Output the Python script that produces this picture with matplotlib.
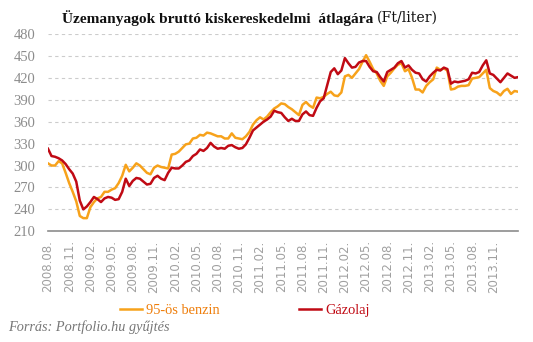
import numpy as np
from matplotlib import pyplot as plt

# semi-monthly readings, starting 2008.08
benzin = [303, 300, 300, 306, 303, 290, 276, 264, 251, 231, 228, 228,
          243, 250, 255, 257, 264, 264, 267, 269, 276, 286, 301, 292,
          297, 303, 300, 295, 290, 288, 297, 300, 298, 297, 296, 315,
          316, 319, 324, 329, 330, 337, 338, 342, 341, 345, 344, 342,
          340, 340, 337, 337, 344, 338, 337, 336, 340, 346, 356, 362,
          366, 363, 367, 373, 378, 381, 385, 384, 380, 377, 373, 369,
          383, 387, 382, 379, 393, 392, 394, 398, 401, 396, 395, 400,
          422, 424, 420, 426, 432, 442, 451, 442, 432, 426, 416, 409,
          422, 427, 433, 438, 440, 429, 432, 420, 404, 404, 400, 409,
          414, 418, 434, 431, 433, 430, 404, 405, 408, 409, 409, 410,
          419, 420, 421, 426, 431, 406, 402, 400, 396, 402, 405, 398,
          402, 401]
gazolaj = [323, 313, 312, 310, 307, 302, 295, 289, 278, 252, 240, 244,
           250, 257, 254, 250, 255, 257, 256, 253, 254, 264, 282, 272,
           279, 283, 282, 278, 274, 275, 283, 286, 282, 280, 290, 297,
           296, 296, 300, 305, 307, 313, 316, 322, 320, 324, 331, 326,
           323, 324, 323, 327, 328, 325, 323, 324, 329, 338, 348, 352,
           356, 360, 363, 367, 375, 373, 372, 366, 361, 364, 361, 361,
           370, 374, 369, 368, 379, 388, 392, 410, 428, 433, 425, 430,
           447, 440, 434, 435, 441, 443, 443, 435, 429, 428, 421, 415,
           428, 431, 434, 440, 443, 434, 437, 431, 427, 426, 418, 415,
           422, 427, 431, 430, 434, 432, 412, 415, 414, 415, 416, 418,
           427, 426, 428, 437, 444, 426, 424, 419, 414, 420, 426, 423,
           420, 421]
tick_labels = ["2008.08.", "2008.11.", "2009.02.", "2009.05.", "2009.08.", "2009.11.",
               "2010.02.", "2010.05.", "2010.08.", "2010.11.", "2011.02.", "2011.05.",
               "2011.08.", "2011.11.", "2012.02.", "2012.05.", "2012.08.", "2012.11.",
               "2013.02.", "2013.05.", "2013.08.", "2013.11."]
yticks = [210, 240, 270, 300, 330, 360, 390, 420, 450, 480]

orange = "#F7A21B"
red = "#C00A14"

months = np.arange(len(benzin)) * 0.5

fig = plt.figure(figsize=(5.33, 3.42), dpi=100)
ax = fig.add_axes([0.090, 0.3237, 0.882, 0.5769])

ax.plot(months, benzin, color=orange, lw=1.8, label="95-ös benzin")
ax.plot(months, gazolaj, color=red, lw=1.8, label="Gázolaj")

ax.set_xlim(0, months[-1])
ax.set_ylim(210, 480)
ax.set_yticks(yticks)
for v in yticks[1:]:
    ax.axhline(v, color="#cccccc", lw=0.8, dashes=(3, 3), zorder=0)
for s in ["top", "right", "left"]:
    ax.spines[s].set_visible(False)
ax.spines["bottom"].set_color("#8c8c8c")
ax.spines["bottom"].set_linewidth(1.2)

ax.set_xticks(np.arange(len(tick_labels)) * 3)
ax.set_xticklabels(tick_labels, rotation=90, fontsize=8.5, color="#a0a0a0",
                   family="DejaVu Sans")
ax.tick_params(axis="x", length=0, pad=6.5)
ax.tick_params(axis="y", length=0, pad=9, labelsize=10.5, labelcolor="#8c8c8c")
for lab in ax.get_yticklabels():
    lab.set_family("Liberation Serif")

leg = ax.legend(loc="center left", bbox_to_anchor=(0.225, 0.093),
                bbox_transform=fig.transFigure, ncol=2, frameon=False,
                borderpad=0, borderaxespad=0, handlelength=1.55,
                handletextpad=0.25, columnspacing=5.5,
                prop={"family": "Liberation Serif", "size": 10.4})
leg.get_texts()[0].set_color("#EE7D0A")
leg.get_texts()[1].set_color(red)

fig.text(0.015, 0.045, "Forrás: Portfolio.hu gyűjtés", family="Liberation Serif",
         style="italic", fontsize=10.3, color="#777777", va="center")

t1 = fig.text(0.116, 0.947, "Üzemanyagok bruttó kiskereskedelmi  átlagára",
              family="Liberation Serif", weight="bold", fontsize=11.1,
              color="#111111", va="center")
fig.canvas.draw()
bb = t1.get_window_extent(fig.canvas.get_renderer())
fig.text(bb.x1 / fig.bbox.width + 0.006, 0.947, "(Ft/liter)",
         family="DejaVu Serif", fontsize=10.2, color="#111111", va="center")

fig.savefig("out.png", dpi=100)
